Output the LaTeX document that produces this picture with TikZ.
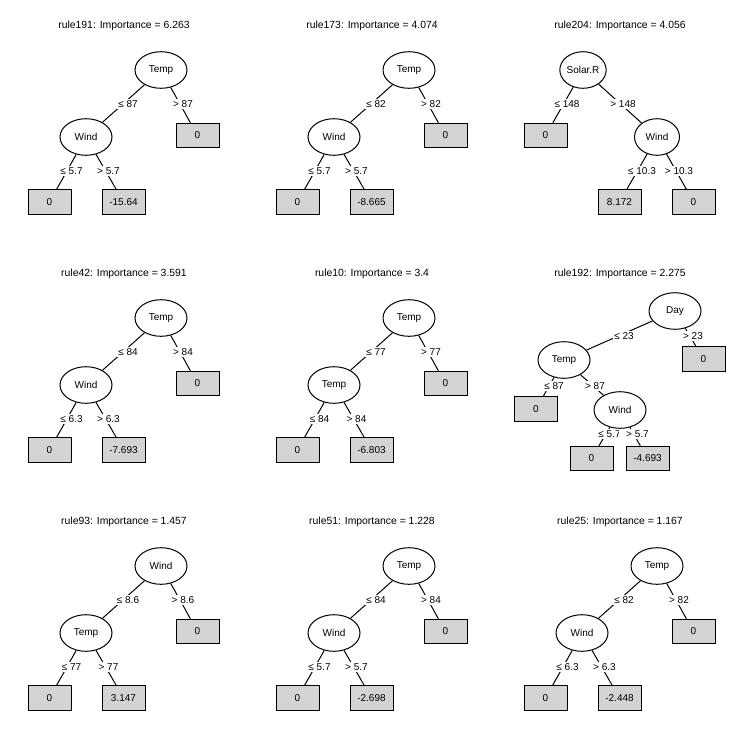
\documentclass[tikz,border=0pt]{standalone}
\usepackage{fontspec}
\setmainfont{Liberation Sans}
\usetikzlibrary{shapes.geometric}
\definecolor{leafgray}{HTML}{D3D3D3}
\tikzset{
  ell/.style={ellipse, draw, line width=1pt, fill=white, minimum width=52pt, minimum height=36.6pt, inner sep=0pt, font=\fontsize{10}{12}\selectfont},
  leaf/.style={rectangle, draw, line width=1pt, fill=leafgray, minimum width=43pt, minimum height=24.5pt, inner sep=0pt, font=\fontsize{10}{12}\selectfont},
  elab/.style={fill=white, inner xsep=1.5pt, inner ysep=1.5pt, font=\fontsize{10}{12}\selectfont},
  ttl/.style={font=\fontsize{10.4}{13}\selectfont, inner sep=0pt},
  edgeline/.style={line width=1pt}
}
\newcommand\panelA[8]{%
  \begin{scope}[shift={(#1)}]
    \node[ttl] (#2t) at (124,26) {#3};
    \node[ell] (#2r) at (161,70) {#4};
    \node[ell] (#2i) at (86,137) {#5};
    \node[leaf] (#2a) at (197.5,135.5) {0};
    \node[leaf] (#2b) at (49.5,202) {0};
    \node[leaf] (#2c) at (123.5,202) {#8};
    \draw[edgeline] (#2r) -- (#2i);
    \draw[edgeline] (#2r) -- (#2a);
    \draw[edgeline] (#2i) -- (#2b);
    \draw[edgeline] (#2i) -- (#2c);
    \node[elab] (#2l1) at (128,104) {≤ #6};
    \node[elab] (#2l2) at (183,104) {> #6};
    \node[elab] (#2l3) at (71.5,171) {≤ #7};
    \node[elab] (#2l4) at (108.5,171) {> #7};
  \end{scope}}
\begin{document}
\begin{tikzpicture}[x=1pt,y=-1pt]
  \fill[white] (0,0) rectangle (744,744);
  \useasboundingbox (0,0) rectangle (744,744);
  % Row 1
  \panelA{0,0}{p1}{rule191: Importance = 6.263}{Temp}{Wind}{87}{5.7}{-15.64}
  \panelA{248,0}{p2}{rule173: Importance = 4.074}{Temp}{Wind}{82}{5.7}{-8.665}
  \begin{scope}[shift={(496,0)}]
    \node[ttl] (p3t) at (124,26) {rule204: Importance = 4.056};
    \node[ell, minimum width=45pt] (p3r) at (87,70) {Solar.R};
    \node[ell, minimum width=45pt] (p3i) at (161,137) {Wind};
    \node[leaf] (p3a) at (49.5,135.5) {0};
    \node[leaf] (p3b) at (123.5,202) {8.172};
    \node[leaf] (p3c) at (197.5,202) {0};
    \draw[edgeline] (p3r) -- (p3a);
    \draw[edgeline] (p3r) -- (p3i);
    \draw[edgeline] (p3i) -- (p3b);
    \draw[edgeline] (p3i) -- (p3c);
    \node[elab] (p3l1) at (71,104) {≤ 148};
    \node[elab] (p3l2) at (127,104) {> 148};
    \node[elab] (p3l3) at (146,171) {≤ 10.3};
    \node[elab] (p3l4) at (183,171) {> 10.3};
  \end{scope}
  % Row 2
  \panelA{0,248}{p4}{rule42: Importance = 3.591}{Temp}{Wind}{84}{6.3}{-7.693}
  \panelA{248,248}{p5}{rule10: Importance = 3.4}{Temp}{Temp}{77}{84}{-6.803}
  \begin{scope}[shift={(496,248)}]
    \node[ttl] (p6t) at (124,26) {rule192: Importance = 2.275};
    \node[ell] (p6r) at (179,63) {Day};
    \node[ell] (p6i) at (68,112) {Temp};
    \node[ell] (p6j) at (124,162) {Wind};
    \node[leaf] (p6a) at (207.5,111) {0};
    \node[leaf] (p6b) at (40,161) {0};
    \node[leaf] (p6c) at (95.5,210.5) {0};
    \node[leaf] (p6d) at (151.5,210.5) {-4.693};
    \draw[edgeline] (p6r) -- (p6i);
    \draw[edgeline] (p6r) -- (p6a);
    \draw[edgeline] (p6i) -- (p6b);
    \draw[edgeline] (p6i) -- (p6j);
    \draw[edgeline] (p6j) -- (p6c);
    \draw[edgeline] (p6j) -- (p6d);
    \node[elab] (p6l1) at (128,88) {≤ 23};
    \node[elab] (p6l2) at (197,88) {> 23};
    \node[elab] (p6l3) at (58,138) {≤ 87};
    \node[elab] (p6l4) at (99,138) {> 87};
    \node[elab] (p6l5) at (113.5,186) {≤ 5.7};
    \node[elab] (p6l6) at (138.5,186) {\hspace*{6pt}> 5.7};
  \end{scope}
  % Row 3
  \panelA{0,496}{p7}{rule93: Importance = 1.457}{Wind}{Temp}{8.6}{77}{3.147}
  \panelA{248,496}{p8}{rule51: Importance = 1.228}{Temp}{Wind}{84}{5.7}{-2.698}
  \panelA{496,496}{p9}{rule25: Importance = 1.167}{Temp}{Wind}{82}{6.3}{-2.448}
\end{tikzpicture}
\end{document}
